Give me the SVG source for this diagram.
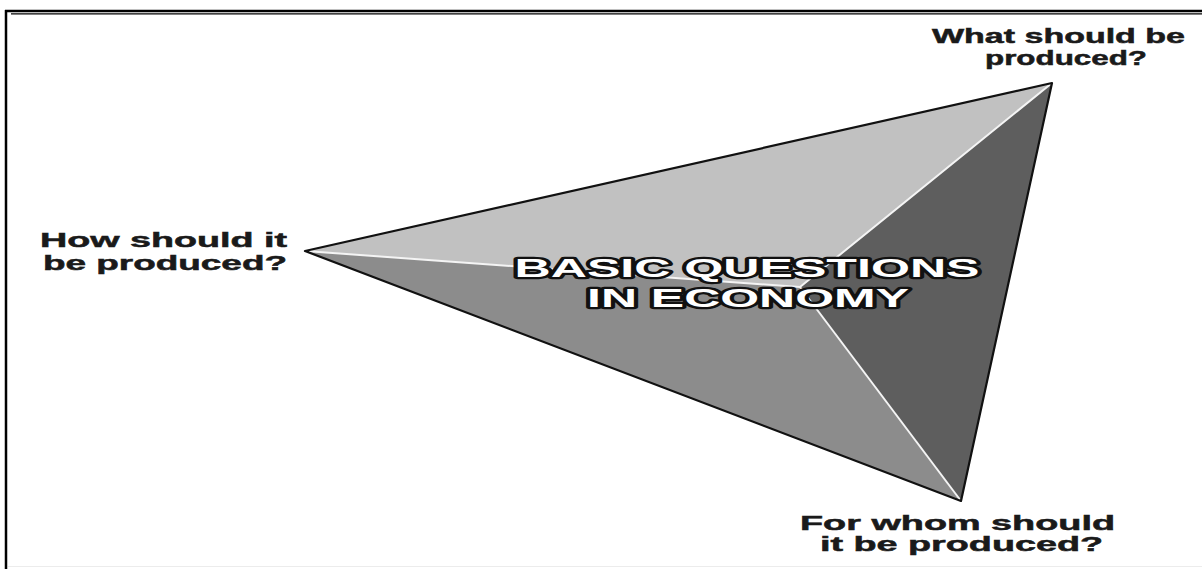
<svg xmlns="http://www.w3.org/2000/svg" width="1202" height="569" viewBox="0 0 1202 569">
<style>
.lbl{font-family:"Liberation Sans",Arial,sans-serif;font-weight:bold;font-size:20.5px;fill:#1a1a1a;stroke:#1a1a1a;stroke-width:0.5}
.ttl{font-family:"Liberation Sans",Arial,sans-serif;font-weight:900;font-size:26px;fill:#ffffff;stroke:#111111;stroke-width:4.5;stroke-linejoin:round;paint-order:stroke}
.ridge{stroke:#f4f4f4;stroke-width:2;fill:none}
.edge{stroke:#111111;stroke-width:2.2;fill:none;stroke-linejoin:round}
</style>
<rect width="1202" height="569" fill="#ffffff"/>
<g id="frame">
<line x1="6" y1="10" x2="6" y2="569" stroke="#000" stroke-width="2.5"/>
<line x1="5" y1="11" x2="1202" y2="11" stroke="#000" stroke-width="2.5"/>
<line x1="11" y1="13.8" x2="1202" y2="13.8" stroke="#000" stroke-width="1.2"/>
<line x1="8" y1="566.5" x2="1202" y2="566.5" stroke="#ececec" stroke-width="1"/>
</g>
<g id="pyramid">
<polygon points="305,251 1052,83 800,287" fill="#c1c1c1"/>
<polygon points="305,251 800,287 961,501" fill="#8c8c8c"/>
<polygon points="800,287 1052,83 961,501" fill="#5e5e5e"/>
<polyline class="ridge" points="305,251 800,287 1052,83"/>
<line class="ridge" x1="800" y1="287" x2="961" y2="501"/>
<polygon class="edge" points="305,251 1052,83 961,501"/>
</g>
<g id="title">
<text class="ttl" x="747" y="277" text-anchor="middle" textLength="465" lengthAdjust="spacingAndGlyphs">BASIC QUESTIONS</text>
<text class="ttl" x="748" y="307" text-anchor="middle" textLength="322" lengthAdjust="spacingAndGlyphs">IN ECONOMY</text>
</g>
<g id="node-what">
<text class="lbl" x="932" y="43" textLength="253" lengthAdjust="spacingAndGlyphs">What should be</text>
<text class="lbl" x="985" y="65" textLength="162" lengthAdjust="spacingAndGlyphs">produced?</text>
</g>
<g id="node-how">
<text class="lbl" x="40" y="247" textLength="247" lengthAdjust="spacingAndGlyphs">How should it</text>
<text class="lbl" x="43" y="270" textLength="244" lengthAdjust="spacingAndGlyphs">be produced?</text>
</g>
<g id="node-for-whom">
<text class="lbl" x="800" y="530" textLength="315" lengthAdjust="spacingAndGlyphs">For whom should</text>
<text class="lbl" x="820" y="551" textLength="283" lengthAdjust="spacingAndGlyphs">it be produced?</text>
</g>
</svg>
